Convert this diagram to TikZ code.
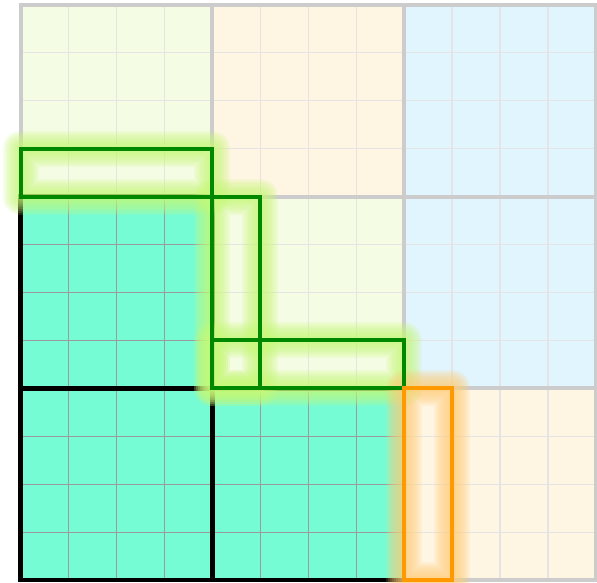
\documentclass[tikz,border=0pt]{standalone}
\definecolor{lyel}{RGB}{244,252,227}
\definecolor{lcream}{RGB}{255,245,227}
\definecolor{lblue}{RGB}{225,245,254}
\definecolor{lteal}{RGB}{118,252,212}
\definecolor{lgrid}{RGB}{228,228,228}
\definecolor{tgrid}{RGB}{155,155,155}
\definecolor{bgray}{RGB}{204,204,204}
\definecolor{sgreen}{RGB}{0,136,0}
\definecolor{sorange}{RGB}{255,153,0}
\definecolor{ggreen}{RGB}{200,248,120}
\definecolor{gorange}{RGB}{255,205,120}
\tikzset{
  lightgrid/.style={lgrid, line width=1.3pt},
  tealgrid/.style={tgrid, line width=1.3pt},
  grayborder/.style={bgray, line width=4pt},
  blackborder/.style={black, line width=4.5pt},
  greenbox/.style={sgreen, line width=4pt},
  orangebox/.style={sorange, line width=4pt},
}
\newcommand\myglow[3]{%
  \foreach \w in {36,32,28,24,20,16,12,8,5} {%
    \draw[#3, line width=\w pt, opacity=0.16, line join=round] #1 rectangle #2;}}
\newcommand\mygrid[3]{% col origin, row origin, style
  \foreach \k in {1,2,3} {%
    \draw[#3] ({#1+\k},#2) -- ({#1+\k},{#2+4});
    \draw[#3] (#1,{#2+\k}) -- ({#1+4},{#2+\k});}}
\begin{document}
\begin{tikzpicture}[x=1pt,y=1pt]
\useasboundingbox (0,0) rectangle (597,-583);
\fill[white] (0,0) rectangle (597,-583);
\begin{scope}[shift={(20.5pt,-4.7pt)}, x=47.95pt, y=-47.95pt]
  % light blocks
  \foreach \r/\c/\col in {0/0/lyel,0/1/lcream,0/2/lblue,1/1/lyel,1/2/lblue,2/2/lcream} {
    \fill[\col] (4*\c,4*\r) rectangle +(4,4);
    \mygrid{4*\c}{4*\r}{lightgrid}
    \draw[grayborder] (4*\c,4*\r) rectangle +(4,4);
  }
  % teal blocks
  \foreach \r/\c in {1/0,2/0,2/1} {
    \fill[lteal] (4*\c,4*\r) rectangle +(4,4);
    \mygrid{4*\c}{4*\r}{tealgrid}
  }
  \foreach \r/\c in {1/0,2/0,2/1} {
    \draw[blackborder] (4*\c,4*\r) rectangle +(4,4);
  }
  % glows
  \myglow{(0,3)}{(4,4)}{ggreen}
  \myglow{(4,4)}{(5,8)}{ggreen}
  \myglow{(4,7)}{(8,8)}{ggreen}
  \myglow{(8,8)}{(9,12)}{gorange}
  % strokes
  \draw[greenbox] (0,3) rectangle (4,4);
  \draw[greenbox] (4,4) rectangle (5,8);
  \draw[greenbox] (4,7) rectangle (8,8);
  \draw[orangebox] (8,8) rectangle (9,12);
\end{scope}
\end{tikzpicture}
\end{document}
